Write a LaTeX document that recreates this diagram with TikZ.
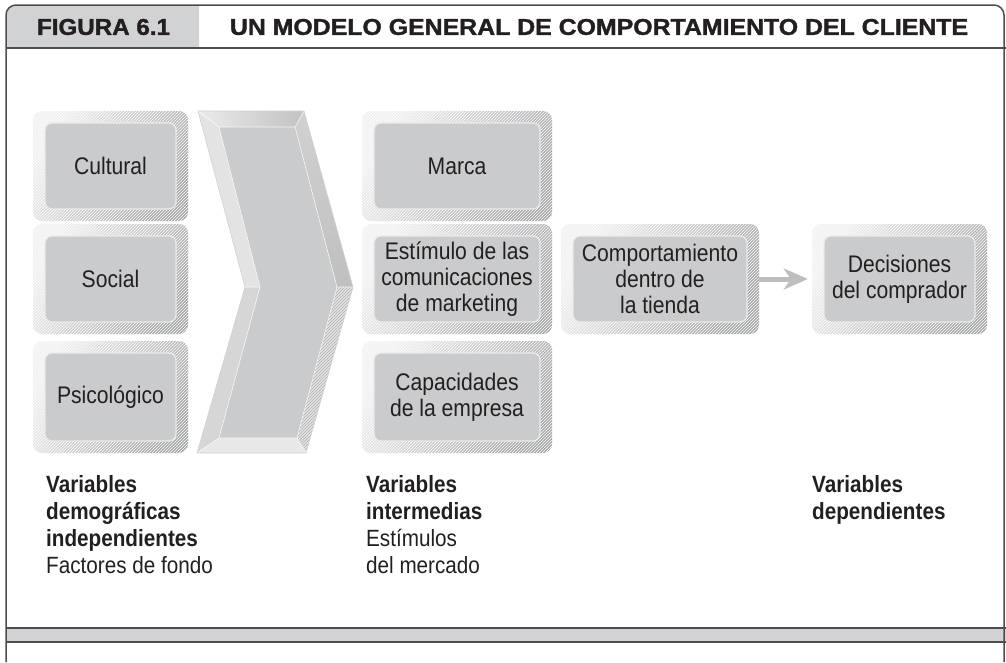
\documentclass[tikz,border=0pt]{standalone}
\usepackage{fontspec}
\usetikzlibrary{arrows.meta,patterns}
\setmainfont{Liberation Sans}
\newfontfamily\boxfont[FakeStretch=0.88]{Liberation Sans}
\newfontfamily\headfont[FakeStretch=0.8,FakeBold=1.2]{Liberation Sans}
\definecolor{txt}{HTML}{231F20}
\definecolor{hdr}{HTML}{D1D2D4}
\definecolor{framec}{HTML}{4D4D4F}
\definecolor{boxlight}{HTML}{F0F0F0}
\definecolor{boxdark}{HTML}{A6A7A9}
\definecolor{face}{HTML}{CACBCD}
\definecolor{facerim}{HTML}{EBEBEB}
\definecolor{arrowgray}{HTML}{BDBEC0}
\tikzset{
  outerbox/.style={rounded corners=9pt, top color=boxlight, bottom color=boxdark, shading angle=60, inner sep=0pt, draw=none,
    postaction={fill opacity=.12, pattern=north east lines, pattern color=white}},
  innerbox/.style={rounded corners=7pt, fill=face, draw=facerim, line width=1.3pt, inner sep=0pt, text=txt,
    font=\boxfont\fontsize{24}{26}\selectfont, align=center},
  labeltext/.style={inner sep=0pt, anchor=north west, align=left, text=txt, font=\boxfont\fontsize{23.5}{27}\selectfont},
  headtext/.style={inner sep=0pt, text=txt, font=\headfont\bfseries},
  flowarrow/.style={draw=arrowgray, line width=5pt, -{Stealth[length=24pt,width=21pt,inset=7pt]}},
  frameline/.style={draw=framec, line width=1.5pt},
  bevelline/.style={draw=white, line width=0.6pt, opacity=0.8}
}
\begin{document}
\begin{tikzpicture}[x=1pt,y=-1pt]
\useasboundingbox (0,0) rectangle (1006,662);
% header
\fill[hdr] (199,48) -- (6,48) [rounded corners=10pt] -- (6,5) [sharp corners] -- (199,5) -- cycle;
\fill[hdr] (6,628) rectangle (1006,642);
\draw[frameline, rounded corners=10pt] (6,662) -- (6,5) -- (1004,5) -- (1004,662);
\draw[frameline] (6,48) -- (1006,48);
\draw[frameline] (6,628) -- (1006,628);
\draw[frameline] (6,642) -- (1006,642);
\node[headtext] (fig) at (103.5,27) {\resizebox{133pt}{16pt}{FIGURA 6.1}};
\node[headtext] (title) at (599,27) {\resizebox{738pt}{16pt}{UN MODELO GENERAL DE COMPORTAMIENTO DEL CLIENTE}};

% left column
\node[outerbox, minimum width=155pt, minimum height=110pt] (culO) at (110.5,166) {};
\node[innerbox, minimum width=131pt, minimum height=86pt] (cul) at (culO) {Cultural};
\node[outerbox, minimum width=155pt, minimum height=110pt] (socO) at (110.5,279) {};
\node[innerbox, minimum width=131pt, minimum height=86pt] (soc) at (socO) {Social};
\node[outerbox, minimum width=155pt, minimum height=112pt] (psiO) at (110.5,397) {};
\node[innerbox, minimum width=131pt, minimum height=88pt] (psi) at (psiO) {Psicológico};

% chevron
\coordinate (o1) at (198,111); \coordinate (o2) at (304,111); \coordinate (o3) at (353,287);
\coordinate (o4) at (306,453); \coordinate (o5) at (197,453); \coordinate (o6) at (245,287);
\coordinate (i1) at (219,127); \coordinate (i2) at (295,127); \coordinate (i3) at (337,287);
\coordinate (i4) at (297,438); \coordinate (i5) at (219,438); \coordinate (i6) at (260,287);
\shade[left color=white!92!black, right color=white!76!black] (o1) -- (o2) -- (i2) -- (i1) -- cycle;
\shade[top color=white!82!black, bottom color=white!75!black] (o2) -- (o3) -- (i3) -- (i2) -- cycle;
\fill[white!89!black] (o3) -- (o4) -- (i4) -- (i3) -- cycle;
\fill[pattern=north east lines, pattern color=white!70!black, fill opacity=.35] (o3) -- (o4) -- (i4) -- (i3) -- cycle;
\fill[white!91!black] (o4) -- (o5) -- (i5) -- (i4) -- cycle;
\fill[white!84!black] (o5) -- (o6) -- (i6) -- (i5) -- cycle;
\fill[white!89!black] (o6) -- (o1) -- (i1) -- (i6) -- cycle;
\fill[face] (i1) -- (i2) -- (i3) -- (i4) -- (i5) -- (i6) -- cycle;
\draw[bevelline] (i1) -- (i2) -- (i3) -- (i4) -- (i5) -- (i6) -- cycle;
\draw[bevelline] (o1) -- (i1) (o2) -- (i2) (o3) -- (i3) (o4) -- (i4) (o5) -- (i5) (o6) -- (i6);
\draw[draw=white!82!black, line width=0.6pt] (o1) -- (o2) -- (o3) -- (o4) -- (o5) -- (o6) -- cycle;

% middle column
\node[outerbox, minimum width=190pt, minimum height=110pt] (marO) at (457,166) {};
\node[innerbox, minimum width=166pt, minimum height=86pt] (mar) at (marO) {Marca};
\node[outerbox, minimum width=190pt, minimum height=110pt] (estO) at (457,279) {};
\node[innerbox, minimum width=166pt, minimum height=86pt] (est) at (estO) {Estímulo de las\\comunicaciones\\de marketing};
\node[outerbox, minimum width=190pt, minimum height=112pt] (capO) at (457,397) {};
\node[innerbox, minimum width=166pt, minimum height=88pt] (cap) at (capO) {Capacidades\\de la empresa};

% right boxes
\node[outerbox, minimum width=198pt, minimum height=110pt] (comO) at (660,279) {};
\node[innerbox, minimum width=174pt, minimum height=86pt] (com) at (comO) {Comportamiento\\dentro de\\la tienda};
\node[outerbox, minimum width=175pt, minimum height=110pt] (decO) at (899.5,279) {};
\node[innerbox, minimum width=151pt, minimum height=86pt] (dec) at (decO) {Decisiones\\del comprador};

\draw[flowarrow] (comO.east) -- ([xshift=-4pt]decO.west);

% labels
\node[labeltext] (labA) at (46,475) {\textbf{Variables}\\\textbf{demográficas}\\\textbf{independientes}\\Factores de fondo};
\node[labeltext] (labB) at (366,475) {\textbf{Variables}\\\textbf{intermedias}\\Estímulos\\del mercado};
\node[labeltext] (labC) at (812,475) {\textbf{Variables}\\\textbf{dependientes}};
\end{tikzpicture}
\end{document}
